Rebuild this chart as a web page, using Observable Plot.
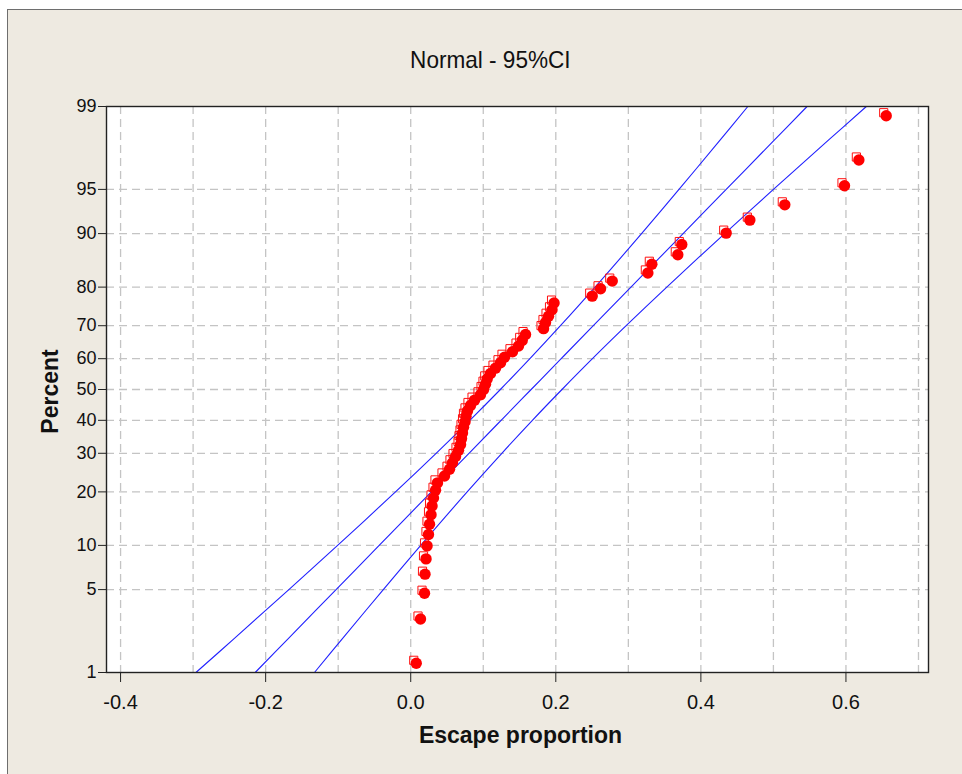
<!DOCTYPE html>
<html>
<head>
<meta charset="utf-8">
<script src="https://cdn.jsdelivr.net/npm/d3@7"></script>
<script src="https://cdn.jsdelivr.net/npm/@observablehq/plot@0.6"></script>
<style>
  body { margin: 0; background: #ffffff; width: 962px; height: 774px; overflow: hidden; position: relative; font-family: "Liberation Sans", Arial, sans-serif; }
  #panel { position: absolute; left: 7px; top: 9px; width: 980px; height: 800px; background: #EEEAE1; border-left: 1px solid #6e6e6e; border-top: 1px solid #6e6e6e; }
  #title { position: absolute; left: 0; top: 46px; width: 980px; text-align: center; font-size: 24px; color: #111; }
  #title span { display: inline-block; transform: scaleX(0.94); }
  #chart { position: absolute; left: 0; top: 0; }
</style>
</head>
<body>
<div id="panel"></div>
<div id="title"><span>Normal - 95%CI</span></div>
<div id="chart"></div>
<script>
// ---- data ----
// plotted points: escape proportion (sorted) and their plotting-position percent
const escapeProportion = [0.0076, 0.0135, 0.0190, 0.0197, 0.0211, 0.0225, 0.0245, 0.0259, 0.0280, 0.0294,
  0.0314, 0.0342, 0.0369, 0.0466, 0.0535, 0.0576, 0.0618, 0.0659, 0.0687, 0.0700,
  0.0714, 0.0728, 0.0749, 0.0762, 0.0783, 0.0824, 0.0880, 0.0962, 0.1004, 0.1031,
  0.1055, 0.1100, 0.1169, 0.1238, 0.1293, 0.1403, 0.1486, 0.1537, 0.1583, 0.1831,
  0.1858, 0.1900, 0.1948, 0.1976, 0.2502, 0.2617, 0.2778, 0.3269, 0.3324, 0.3682,
  0.3737, 0.4349, 0.4675, 0.5157, 0.5980, 0.6178, 0.6555];
const pointPercent = [1.22, 2.96, 4.70, 6.45, 8.19, 9.93, 11.67, 13.41, 15.16, 16.90,
  18.64, 20.38, 22.13, 23.87, 25.61, 27.35, 29.09, 30.84, 32.58, 34.32,
  36.06, 37.80, 39.55, 41.29, 43.03, 44.77, 46.52, 48.26, 50.00, 51.74,
  53.48, 55.23, 56.97, 58.71, 60.45, 62.20, 63.94, 65.68, 67.42, 69.16,
  70.91, 72.65, 74.39, 76.13, 77.87, 79.62, 81.36, 83.10, 84.84, 86.59,
  88.33, 90.07, 91.81, 93.55, 95.30, 97.04, 98.78];

// fitted line and 95% confidence bounds, read at these percent levels
const linePercent = [1, 2, 5, 10, 20, 30, 40, 50, 60, 70, 80, 90, 95, 98, 99];
const fitX   = [-0.2144, -0.1698, -0.1029, -0.0435, 0.0284, 0.0803, 0.1246, 0.1660, 0.2074, 0.2517, 0.3036, 0.3755, 0.4349, 0.5018, 0.5464];
const lowerX = [-0.2961, -0.2446, -0.1680, -0.1008, -0.0210, 0.0350, 0.0815, 0.1236, 0.1643, 0.2064, 0.2542, 0.3182, 0.3698, 0.4270, 0.4647];
const upperX = [-0.1327, -0.0950, -0.0378, 0.0138, 0.0778, 0.1256, 0.1677, 0.2085, 0.2505, 0.2970, 0.3530, 0.4328, 0.5000, 0.5766, 0.6281];

// axis ticks
const xTicks = [-0.4, -0.2, 0.0, 0.2, 0.4, 0.6];
const xGrid = [-0.4, -0.3, -0.2, -0.1, 0.0, 0.1, 0.2, 0.3, 0.4, 0.5, 0.6, 0.7];
const yTickLabels = [1, 5, 10, 20, 30, 40, 50, 60, 70, 80, 90, 95, 99];
const yGridLabels = [5, 10, 20, 30, 40, 50, 60, 70, 80, 90, 95];

// ---- inverse normal CDF (probability-plot scale) ----
function probit(p) {
  const a = [-3.969683028665376e+01, 2.209460984245205e+02, -2.759285104469687e+02, 1.383577518672690e+02, -3.066479806614716e+01, 2.506628277459239e+00];
  const b = [-5.447609879822406e+01, 1.615858368580409e+02, -1.556989798598866e+02, 6.680131188771972e+01, -1.328068155288572e+01];
  const c = [-7.784894002430293e-03, -3.223964580411365e-01, -2.400758277161838e+00, -2.549732539343734e+00, 4.374664141464968e+00, 2.938163982698783e+00];
  const d = [7.784695709041462e-03, 3.224671290700398e-01, 2.445134137142996e+00, 3.754408661907416e+00];
  const pl = 0.02425, ph = 1 - pl;
  if (p < pl) {
    const q = Math.sqrt(-2 * Math.log(p));
    return (((((c[0]*q+c[1])*q+c[2])*q+c[3])*q+c[4])*q+c[5]) / ((((d[0]*q+d[1])*q+d[2])*q+d[3])*q+1);
  }
  if (p <= ph) {
    const q = p - 0.5, r = q * q;
    return (((((a[0]*r+a[1])*r+a[2])*r+a[3])*r+a[4])*r+a[5])*q / (((((b[0]*r+b[1])*r+b[2])*r+b[3])*r+b[4])*r+1);
  }
  const q = Math.sqrt(-2 * Math.log(1 - p));
  return -(((((c[0]*q+c[1])*q+c[2])*q+c[3])*q+c[4])*q+c[5]) / ((((d[0]*q+d[1])*q+d[2])*q+d[3])*q+1);
}
const z = pct => probit(pct / 100);

const points = escapeProportion.map((x, i) => ({x, z: z(pointPercent[i])}));
const lines = [];
[["lower", lowerX], ["fit", fitX], ["upper", upperX]].forEach(([name, arr]) => {
  arr.forEach((x, i) => lines.push({series: name, x, z: z(linePercent[i])}));
});
const yTickZ = yTickLabels.map(z);
const yGridZ = yGridLabels.map(z);
const zMax = z(99);

const chart = Plot.plot({
  width: 962,
  height: 774,
  marginLeft: 106,
  marginRight: 34,
  marginTop: 106,
  marginBottom: 102,
  style: {background: "transparent", fontFamily: "'Liberation Sans', Arial, sans-serif", color: "#111"},
  x: {domain: [-0.4194, 0.7138]},
  y: {domain: [-zMax, zMax]},
  marks: [
    Plot.frame({fill: "white", stroke: "none"}),
    Plot.ruleX(xGrid, {stroke: "#c4c4c4", strokeWidth: 1.3, strokeDasharray: "8,5"}),
    Plot.ruleY(yGridZ, {stroke: "#c4c4c4", strokeWidth: 1.3, strokeDasharray: "8,5"}),
    Plot.line(lines, {x: "x", y: "z", z: "series", stroke: "#2020ff", strokeWidth: 1.1, curve: "catmull-rom"}),
    Plot.dot(points, {x: "x", y: "z", symbol: "square", r: 4.6, stroke: "#ff1010", strokeWidth: 1, fill: "none", dx: -2.5, dy: -3}),
    Plot.dot(points, {x: "x", y: "z", r: 5.7, fill: "#ff0000", stroke: "none"}),
    Plot.frame({stroke: "#222", strokeWidth: 1.4}),
    Plot.axisX(xTicks, {tickSize: 10, tickPadding: 12, fontSize: 20, label: null, tickFormat: d => d.toFixed(1), stroke: "#222"}),
    Plot.axisY(yTickZ, {tickSize: 8, tickPadding: 2, fontSize: 18, label: null, tickFormat: v => yTickLabels[yTickZ.indexOf(v)], stroke: "#222"}),
    Plot.text(["Escape proportion"], {frameAnchor: "bottom", lineAnchor: "middle", textAnchor: "middle", dy: 63, dx: 3, fontSize: 23, fontWeight: "bold", fill: "#111"}),
    Plot.text(["Percent"], {frameAnchor: "left", textAnchor: "middle", lineAnchor: "middle", dx: -56, dy: 2, rotate: -90, fontSize: 23, fontWeight: "bold", fill: "#111"})
  ]
});
document.getElementById("chart").appendChild(chart);
</script>
</body>
</html>
